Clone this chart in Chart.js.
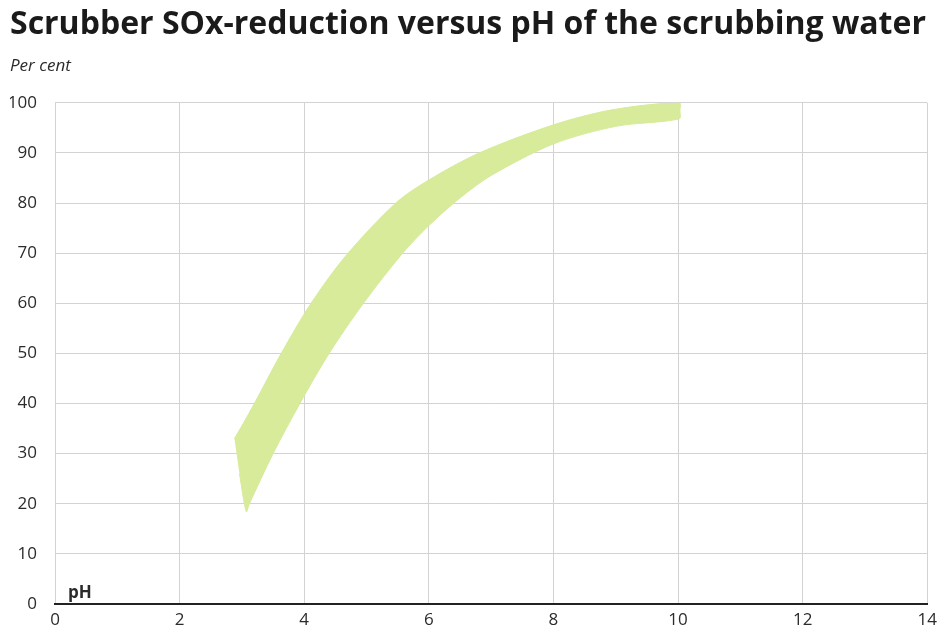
<!DOCTYPE html>
<html>
<head>
<meta charset="utf-8">
<script src="https://cdn.jsdelivr.net/npm/chart.js@4.4.1/dist/chart.umd.min.js"></script>
<style>
  html, body { margin: 0; padding: 0; background: #fff; }
  #wrap { width: 943px; height: 637px; }
</style>
</head>
<body>
<div id="wrap"><canvas id="chart"></canvas></div>
<script>
// upper edge of the band, left to right
const upperPH  = [2.88, 3.02, 3.2, 3.63, 4.11, 4.67, 5.47, 6.0, 6.81, 8.0, 8.94, 10.02];
const upperPct = [33, 36, 40, 50, 60, 69.5, 80, 84.6, 90, 95.6, 98.6, 100];
// right end of the band, top to bottom
const rightPH  = [10.03];
const rightPct = [98.4];
// lower edge of the band, left to right
const lowerPH  = [3.07, 3.12, 3.5, 3.93, 4.4, 4.95, 5.58, 6.0, 6.5, 7.0, 8.0, 9.0, 10.02];
const lowerPct = [18.4, 20, 30, 40, 50, 60, 70, 75.5, 81, 85.5, 91.8, 95.3, 96.8];
// left edge between the bottom tip and the upper corner
const leftPH  = [2.96];
const leftPct = [26];

const xTicks = [0, 2, 4, 6, 8, 10, 12, 14];
const yTicks = [0, 10, 20, 30, 40, 50, 60, 70, 80, 90, 100];

// closed outline: upper edge, right end, lower edge backwards, left edge
const outline = [];
upperPH.forEach((x, i) => outline.push({ x: x, y: upperPct[i] }));
rightPH.forEach((x, i) => outline.push({ x: x, y: rightPct[i] }));
for (let i = lowerPH.length - 1; i >= 0; i--) outline.push({ x: lowerPH[i], y: lowerPct[i] });
leftPH.forEach((x, i) => outline.push({ x: x, y: leftPct[i] }));

const textColor = "#2b2b2b";

// small "pH" label sitting on the x axis
const phLabel = {
    id: "phLabel",
    afterDraw(chart) {
        const ctx = chart.ctx;
        const xs = chart.scales.x, ys = chart.scales.y;
        ctx.save();
        ctx.font = "bold 17px 'Open Sans'";
        ctx.fillStyle = textColor;
        ctx.textAlign = "left";
        ctx.textBaseline = "alphabetic";
        ctx.fillText("pH", xs.getPixelForValue(0) + 13, ys.getPixelForValue(0) - 6);
        ctx.restore();
    }
};

new Chart(document.getElementById("chart"), {
    type: "scatter",
    data: {
        datasets: [{
            label: "SOx-reduction",
            data: outline,
            showLine: true,
            fill: "shape",
            tension: 0.3,
            backgroundColor: "#d7eb9a",
            borderColor: "#d7eb9a",
            borderWidth: 1,
            pointRadius: 0,
            pointHoverRadius: 0
        }]
    },
    options: {
        responsive: true,
        maintainAspectRatio: false,
        animation: false,
        layout: { padding: { left: 10, right: 15, top: 0, bottom: 0 } },
        plugins: {
            legend: { display: false },
            tooltip: { enabled: false },
            title: {
                display: true,
                text: "Scrubber SOx-reduction versus pH of the scrubbing water",
                align: "start",
                color: "#1a1a1a",
                font: { family: "'Open Sans'", size: 32, weight: "bold" },
                padding: { top: 6, bottom: 4 }
            },
            subtitle: {
                display: true,
                text: "Per cent",
                align: "start",
                color: textColor,
                font: { family: "'Open Sans'", size: 17, style: "italic" },
                padding: { top: 8, bottom: 26 }
            }
        },
        scales: {
            x: {
                type: "linear",
                min: 0,
                max: 14,
                afterBuildTicks(scale) { scale.ticks = xTicks.map(v => ({ value: v })); },
                afterFit(scale) { scale.height = 33; },
                ticks: {
                    color: textColor,
                    font: { family: "'Open Sans'", size: 17 },
                    padding: 6
                },
                grid: { color: "#d3d3d3", lineWidth: 1, drawTicks: false },
                border: { display: true, color: "#222", width: 2 }
            },
            y: {
                min: 0,
                max: 100,
                afterBuildTicks(scale) { scale.ticks = yTicks.map(v => ({ value: v })); },
                afterFit(scale) { scale.width = 45; },
                ticks: {
                    color: textColor,
                    font: { family: "'Open Sans'", size: 17 },
                    padding: 18
                },
                grid: { color: "#d3d3d3", lineWidth: 1, drawTicks: false },
                border: { display: false }
            }
        }
    },
    plugins: [phLabel]
});
</script>
</body>
</html>
